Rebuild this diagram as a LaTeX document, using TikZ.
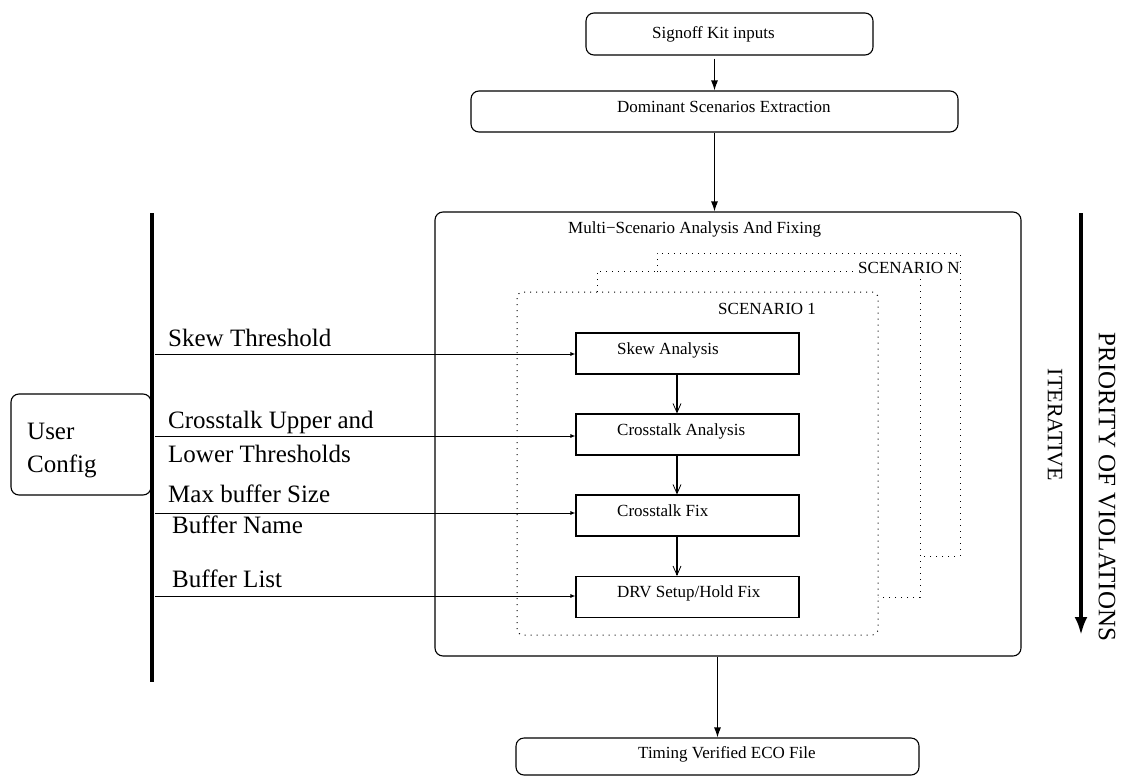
\documentclass[tikz,border=0pt]{standalone}
\usepackage{fontspec}
\setmainfont{Liberation Serif}
\usetikzlibrary{arrows.meta}

\begin{document}
\begin{tikzpicture}[x=1pt,y=-1pt,
  box/.style={draw, line width=1.1pt, rounded corners=8pt, inner sep=0pt},
  stepbox/.style={draw, line width=1.1pt, inner sep=0pt, minimum width=223pt, minimum height=41pt},
  small/.style={font=\fontsize{17}{20}\selectfont, inner sep=0pt},
  big/.style={font=\fontsize{25}{30}\selectfont, inner sep=0pt},
  flow/.style={line width=1.1pt, -{Latex[length=10pt,width=7pt]}},
  innerflow/.style={line width=1.1pt, -{Straight Barb[length=9pt,width=8pt,line width=0.8pt]}},
  feed/.style={line width=0.9pt, -{Latex[length=5pt,width=4pt]}},
  dots/.style={line width=1pt, dash pattern=on 1pt off 5pt}
]
\useasboundingbox (0,0) rectangle (1123,776);

% main flow boxes
\node[box, minimum width=287pt, minimum height=42pt] (sig) at (729.5,34) {};
\node[small, anchor=base west] (sigtxt) at (652,38) {Signoff Kit inputs};
\node[box, minimum width=487pt, minimum height=41pt] (dom) at (714.5,111.5) {};
\node[small, anchor=base west] (domtxt) at (617,112) {Dominant Scenarios Extraction};
\node[box, minimum width=586pt, minimum height=444pt] (multi) at (728,434) {};
\node[small, anchor=base west] (multitxt) at (568,233) {Multi−Scenario Analysis And Fixing};
\node[box, minimum width=403pt, minimum height=37pt] (tim) at (717.5,756.5) {};
\node[small, anchor=base west] (timtxt) at (638,758) {Timing Verified ECO File};

% stacked scenario frames
\draw[dots] (657,272) -- (657,253) -- (960,253) -- (960,556) -- (920,556);
\draw[dots] (597,292) -- (597,271) -- (855,271);
\draw[dots] (920,279) -- (920,597) -- (878,597);
\draw[dots, rounded corners=6pt] (517,292) rectangle (878,635);
\node[small, anchor=base west] (scnN) at (858,273) {SCENARIO N};
\node[small, anchor=base west] (scn1) at (718,314) {SCENARIO 1};

% per-scenario steps
\node[stepbox] (skew) at (687.5,353.5) {};
\node[small, anchor=base west] (skewtxt) at (617,354) {Skew Analysis};
\node[stepbox] (ca) at (687.5,434.5) {};
\node[small, anchor=base west] (catxt) at (617,435) {Crosstalk Analysis};
\node[stepbox] (cf) at (687.5,515.5) {};
\node[small, anchor=base west] (cftxt) at (617,516) {Crosstalk Fix};
\node[stepbox] (drv) at (687.5,597) {};
\node[small, anchor=base west] (drvtxt) at (617,597) {DRV Setup/Hold Fix};

\coordinate (spine) at (677,0);
\draw[innerflow] (skew.south -| spine) -- (ca.north -| spine);
\draw[innerflow] (ca.south -| spine) -- (cf.north -| spine);
\draw[innerflow] (cf.south -| spine) -- (drv.north -| spine);

% main connectors
\draw[flow, shorten <=3pt] (dom.north |- sig.south) -- (dom.north);
\draw[flow] (dom.south) -- (dom.south |- multi.north);
\draw[flow] (multi.south -| tim.north) -- (tim.north);

% user configuration bus
\node[box, minimum width=140pt, minimum height=101pt] (user) at (81,444.5) {};
\node[big, anchor=base west] (usertxt) at (27,439) {User};
\node[big, anchor=base west] (cfgtxt) at (27,472) {Config};
\coordinate (railtop) at (152,213);
\coordinate (railbot) at (152,682);
\draw[line width=4pt] (railtop) -- (railbot);

\coordinate (f1) at (155,354);
\coordinate (f2) at (155,436);
\coordinate (f3) at (155,513);
\coordinate (f4) at (155,596);
\draw[feed] (f1) -- (f1 -| skew.west);
\draw[feed] (f2) -- (f2 -| ca.west);
\draw[feed] (f3) -- (f3 -| cf.west);
\draw[feed] (f4) -- (f4 -| drv.west);

\node[big, anchor=base west] (l1) at (168,346) {Skew Threshold};
\node[big, anchor=base west] (l2) at (168,428) {Crosstalk Upper and};
\node[big, anchor=base west] (l3) at (168,462) {Lower Thresholds};
\node[big, anchor=base west] (l4) at (168,502) {Max buffer Size};
\node[big, anchor=base west] (l5) at (172,533) {Buffer Name};
\node[big, anchor=base west] (l6) at (172,587) {Buffer List};

% priority arrow
\coordinate (prtop) at (1081,213);
\coordinate (prbot) at (1081,635);
\draw[line width=3.5pt, -{Latex[length=18pt,width=13pt]}] (prtop) -- (prbot);
\node[big, rotate=-90] (prio) at (1107,487) {PRIORITY OF VIOLATIONS};
\node[font=\fontsize{22}{26}\selectfont, inner sep=0pt, rotate=-90] (iter) at (1055,425) {ITERATIVE};
\end{tikzpicture}
\end{document}
